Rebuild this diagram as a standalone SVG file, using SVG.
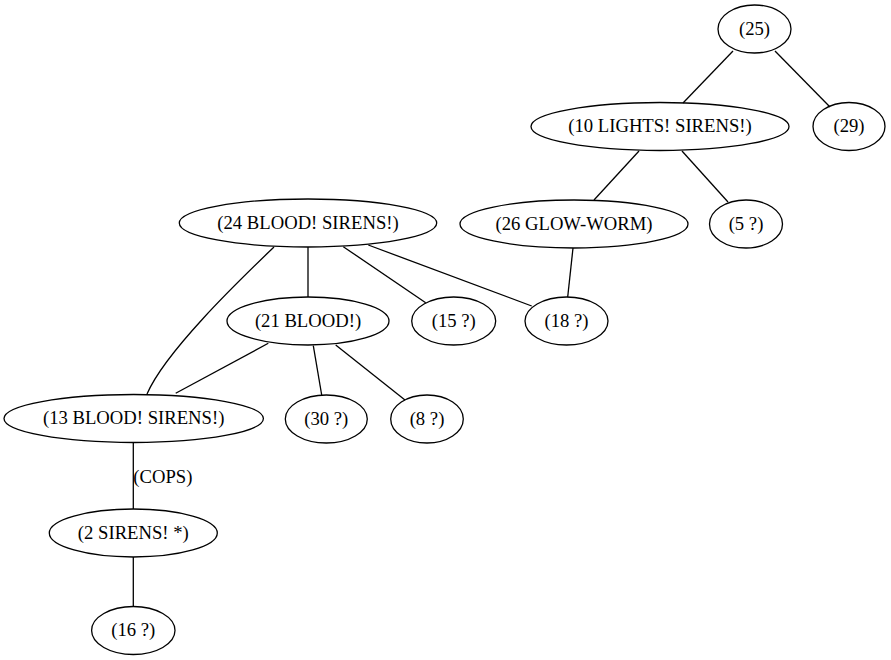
<svg xmlns="http://www.w3.org/2000/svg" width="891" height="660" viewBox="0 0 891 660">
<style>
.n ellipse{fill:none;stroke:#000;stroke-width:1.3}
.n text,.lbl{font-family:"Liberation Serif","Times New Roman",serif;font-size:18.67px;fill:#000;text-anchor:middle}
#edges path{fill:none;stroke:#000;stroke-width:1.3}
</style>
<rect width="891" height="660" fill="#fff"/>
<g id="edges">
<path d="M733,51L683,103"/>
<path d="M775,51L830,107"/>
<path d="M639,151L594,200"/>
<path d="M682,151L728,202"/>
<path d="M573,248L567.7,297"/>
<path d="M308,247L308,297"/>
<path d="M343.3,246.7L425.7,302.7"/>
<path d="M368.3,245L531.7,306"/>
<path d="M274,247C244,276 166,350 147,394"/>
<path d="M268.3,343.3L175.7,393.3"/>
<path d="M313.3,345.7L321.7,395"/>
<path d="M335.7,345L405,400"/>
<path d="M133.3,442L133.3,509"/>
<path d="M133.3,557L133.3,606"/>
<text class="lbl" x="162.8" y="482.7">(COPS)</text>
</g>
<g id="n25" class="n"><ellipse cx="754.5" cy="29" rx="36.5" ry="24"/><text x="754.5" y="34.6">(25)</text></g>
<g id="n10" class="n"><ellipse cx="660" cy="126.5" rx="129" ry="24"/><text x="660" y="132.1">(10 LIGHTS! SIRENS!)</text></g>
<g id="n29" class="n"><ellipse cx="849" cy="126.5" rx="36" ry="24"/><text x="849" y="132.1">(29)</text></g>
<g id="n26" class="n"><ellipse cx="574" cy="224" rx="114" ry="24"/><text x="574" y="229.6">(26 GLOW-WORM)</text></g>
<g id="n5" class="n"><ellipse cx="746" cy="224" rx="36.5" ry="24"/><text x="746" y="229.6">(5 ?)</text></g>
<g id="n24" class="n"><ellipse cx="308" cy="223" rx="128.7" ry="24"/><text x="308" y="228.6">(24 BLOOD! SIRENS!)</text></g>
<g id="n21" class="n"><ellipse cx="308" cy="321" rx="81" ry="24"/><text x="308" y="326.6">(21 BLOOD!)</text></g>
<g id="n15" class="n"><ellipse cx="453.7" cy="321" rx="42" ry="24"/><text x="453.7" y="326.6">(15 ?)</text></g>
<g id="n18" class="n"><ellipse cx="566.5" cy="321" rx="41.5" ry="24"/><text x="566.5" y="326.6">(18 ?)</text></g>
<g id="n13" class="n"><ellipse cx="133.7" cy="418.5" rx="129.7" ry="24"/><text x="133.7" y="424.1">(13 BLOOD! SIRENS!)</text></g>
<g id="n30" class="n"><ellipse cx="326.3" cy="419" rx="41" ry="24"/><text x="326.3" y="424.6">(30 ?)</text></g>
<g id="n8" class="n"><ellipse cx="427" cy="419" rx="36.3" ry="24"/><text x="427" y="424.6">(8 ?)</text></g>
<g id="n2" class="n"><ellipse cx="133.3" cy="533" rx="84" ry="24"/><text x="133.3" y="538.6">(2 SIRENS! *)</text></g>
<g id="n16" class="n"><ellipse cx="133.3" cy="630.5" rx="41.7" ry="24"/><text x="133.3" y="636.1">(16 ?)</text></g>
</svg>
